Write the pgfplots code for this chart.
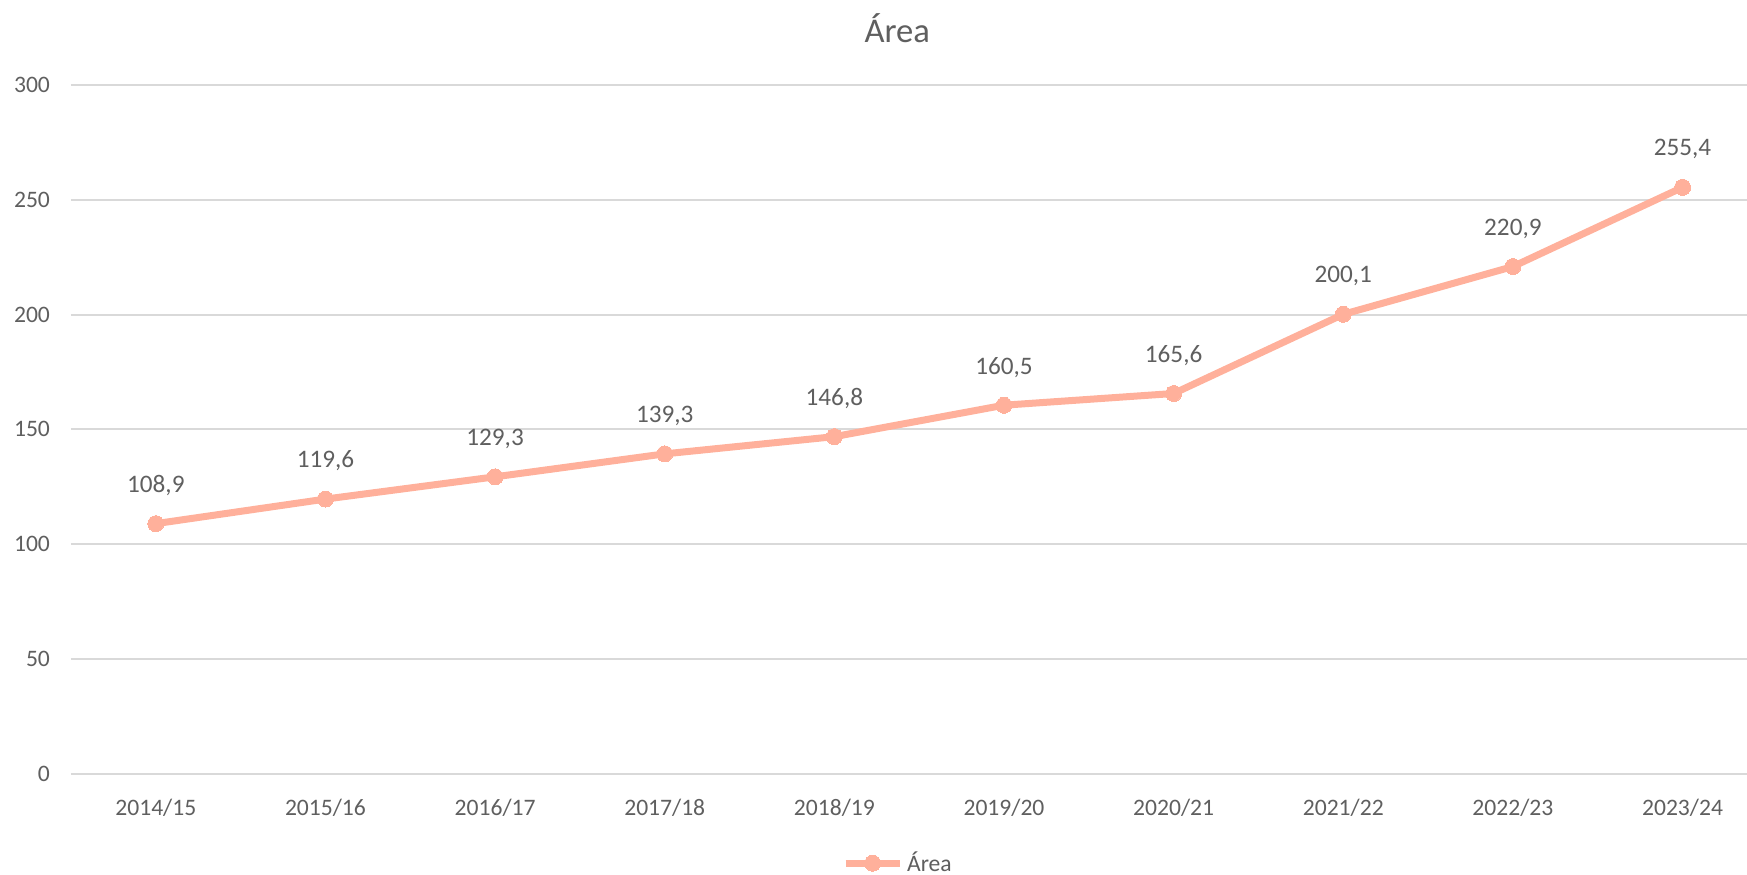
\documentclass[border=0pt]{standalone}
\usepackage{fontspec}
\setmainfont{Carlito}
\usepackage{pgfplots}
\pgfplotsset{compat=1.18}
\definecolor{linec}{HTML}{FFB09B}
\definecolor{txt}{HTML}{5F5F5F}
\definecolor{gridc}{HTML}{D9D9D9}
\begin{document}
\begin{tikzpicture}
\useasboundingbox (-35.5pt,-50.65pt) rectangle (838pt,386.8pt);
\begin{axis}[
  scale only axis,
  width=838pt, height=344.3pt,
  xmin=-0.5, xmax=9.38,
  ymin=0, ymax=300,
  ytick={0,50,...,300},
  xtick={0,...,9},
  xticklabels={2014/15,2015/16,2016/17,2017/18,2018/19,2019/20,2020/21,2021/22,2022/23,2023/24},
  axis line style={draw=none},
  major tick length=0pt,
  ymajorgrids,
  grid style={gridc, line width=1pt},
  tick label style={font=\fontsize{11.8}{14}\selectfont, text=txt},
  /pgf/number format/assume math mode=true,
  xticklabel style={yshift=-9pt},
  yticklabel style={xshift=-7pt},
  clip=false,
  legend style={draw=none, at={(0.494,0)}, anchor=center, yshift=-44.8pt,
    legend columns=-1, font=\fontsize{11.8}{14}\selectfont, text=txt,
    /tikz/every even column/.append style={column sep=2pt}},
  legend image code/.code={\draw[#1,mark repeat=2,mark phase=2] plot coordinates {(0pt,0pt) (13.5pt,0pt) (27pt,0pt)};},
  nodes near coords,
  nodes near coords style={font=\fontsize{12.6}{15}\selectfont, text=txt, anchor=center, yshift=19pt,
    /pgf/number format/.cd, use comma, fixed, fixed zerofill, precision=1, assume math mode=true},
]
\addplot[color=linec, line width=3.5pt, mark=*, mark size=4pt, mark options={fill=linec, draw=linec, line width=0pt}]
  coordinates {(0,108.9) (1,119.6) (2,129.3) (3,139.3) (4,146.8) (5,160.5) (6,165.6) (7,200.1) (8,220.9) (9,255.4)};
\addlegendentry{Área}
\node[font=\fontsize{17.3}{20}\selectfont, text=txt, anchor=base] at (rel axis cs:0.493,1) [yshift=21.5pt] {Área};
\end{axis}
\end{tikzpicture}
\end{document}
